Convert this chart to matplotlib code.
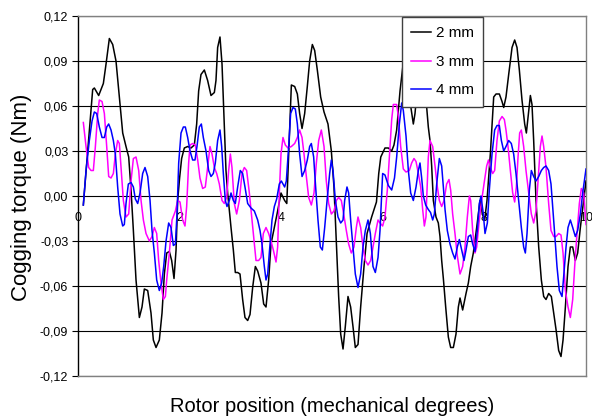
import numpy as np
import matplotlib
matplotlib.use("Agg")
import matplotlib.pyplot as plt

plt.rcParams['font.family'] = ['Liberation Sans', 'DejaVu Sans']

# rotor position (deg) / cogging torque (Nm)
x_2mm = [0.105, 0.289, 0.322, 0.407, 0.499, 0.552, 0.617, 0.683, 0.748, 0.814,
         0.880, 0.945, 0.998, 1.044, 1.090, 1.142, 1.208, 1.260, 1.306, 1.372,
         1.437, 1.483, 1.536, 1.601, 1.654, 1.700, 1.746, 1.798, 1.844, 1.890,
         1.930, 1.962, 2.000, 2.040, 2.093, 2.159, 2.224, 2.290, 2.336, 2.375,
         2.421, 2.487, 2.552, 2.618, 2.684, 2.716, 2.749, 2.795, 2.835, 2.880,
         2.913, 2.946, 3.012, 3.058, 3.097, 3.143, 3.189, 3.241, 3.287, 3.340,
         3.386, 3.438, 3.491, 3.537, 3.602, 3.655, 3.701, 3.753, 3.799, 3.865,
         3.930, 3.996, 4.068, 4.110, 4.150, 4.200, 4.265, 4.318, 4.363, 4.410,
         4.462, 4.514, 4.560, 4.613, 4.659, 4.711, 4.777, 4.843, 4.921, 4.987,
         5.039, 5.085, 5.131, 5.171, 5.217, 5.262, 5.315, 5.367, 5.413, 5.459,
         5.512, 5.564, 5.630, 5.690, 5.780, 5.875, 5.920, 5.960, 6.043, 6.109,
         6.175, 6.220, 6.273, 6.306, 6.339, 6.400, 6.460, 6.549, 6.601, 6.634,
         6.700, 6.760, 6.820, 6.864, 6.896, 6.929, 6.962, 6.995, 7.047, 7.093,
         7.126, 7.159, 7.192, 7.238, 7.290, 7.336, 7.389, 7.441, 7.487, 7.520,
         7.572, 7.638, 7.684, 7.730, 7.782, 7.848, 7.914, 7.960, 8.005, 8.051,
         8.117, 8.183, 8.229, 8.294, 8.347, 8.380, 8.425, 8.478, 8.544, 8.596,
         8.642, 8.688, 8.740, 8.793, 8.826, 8.858, 8.905, 8.937, 8.970, 9.016,
         9.069, 9.121, 9.167, 9.213, 9.265, 9.318, 9.364, 9.410, 9.462, 9.508,
         9.548, 9.594, 9.646, 9.692, 9.738, 9.790, 9.836, 9.889, 9.954, 10.0]
y_2mm = [-0.006, 0.071, 0.072, 0.067, 0.075, 0.088, 0.105, 0.101, 0.090, 0.066,
         0.042, 0.033, 0.026, 0.004, -0.023, -0.056, -0.081, -0.074, -0.062, -0.063,
         -0.078, -0.096, -0.101, -0.096, -0.078, -0.052, -0.038, -0.037, -0.043, -0.055,
         -0.036, -0.003, 0.012, 0.025, 0.032, 0.033, 0.032, 0.034, 0.048, 0.070,
         0.081, 0.084, 0.077, 0.067, 0.069, 0.077, 0.099, 0.106, 0.088, 0.048,
         0.017, 0.002, -0.021, -0.036, -0.051, -0.051, -0.052, -0.069, -0.081, -0.083,
         -0.079, -0.061, -0.047, -0.050, -0.058, -0.072, -0.074, -0.056, -0.032, -0.021,
         -0.010, 0.002, -0.003, -0.005, 0.030, 0.074, 0.073, 0.068, 0.055, 0.045,
         0.055, 0.073, 0.090, 0.101, 0.097, 0.084, 0.066, 0.056, 0.048, 0.030,
         0.006, -0.030, -0.067, -0.092, -0.102, -0.087, -0.067, -0.074, -0.087, -0.101,
         -0.099, -0.074, -0.047, -0.025, -0.014, -0.004, 0.015, 0.026, 0.032, 0.032,
         0.030, 0.034, 0.044, 0.057, 0.070, 0.088, 0.072, 0.060, 0.048, 0.055,
         0.080, 0.098, 0.080, 0.059, 0.046, 0.037, 0.020, -0.003, -0.014, -0.018,
         -0.027, -0.043, -0.055, -0.074, -0.094, -0.101, -0.101, -0.092, -0.074, -0.068,
         -0.076, -0.065, -0.058, -0.047, -0.038, -0.021, -0.003, -0.012, -0.016, -0.003,
         0.028, 0.066, 0.068, 0.068, 0.063, 0.059, 0.066, 0.081, 0.099, 0.104,
         0.099, 0.084, 0.064, 0.048, 0.042, 0.052, 0.067, 0.061, 0.037, -0.003,
         -0.034, -0.056, -0.067, -0.069, -0.065, -0.067, -0.078, -0.089, -0.103, -0.107,
         -0.096, -0.074, -0.047, -0.034, -0.034, -0.043, -0.038, -0.021, -0.003, 0.010]

x_3mm = [0.105, 0.158, 0.210, 0.256, 0.302, 0.342, 0.388, 0.420, 0.473, 0.519,
         0.565, 0.604, 0.650, 0.696, 0.735, 0.781, 0.814, 0.847, 0.893, 0.945,
         0.998, 1.044, 1.090, 1.142, 1.195, 1.241, 1.287, 1.339, 1.405, 1.457,
         1.503, 1.549, 1.588, 1.634, 1.680, 1.720, 1.746, 1.798, 1.851, 1.917,
         1.962, 2.008, 2.060, 2.106, 2.139, 2.178, 2.205, 2.257, 2.310, 2.356,
         2.401, 2.454, 2.506, 2.552, 2.598, 2.638, 2.684, 2.730, 2.782, 2.835,
         2.880, 2.926, 2.966, 2.999, 3.031, 3.077, 3.123, 3.176, 3.228, 3.274,
         3.320, 3.373, 3.425, 3.471, 3.504, 3.556, 3.602, 3.648, 3.701, 3.753,
         3.799, 3.845, 3.898, 3.930, 3.963, 3.996, 4.035, 4.081, 4.134, 4.200,
         4.265, 4.318, 4.363, 4.410, 4.449, 4.495, 4.541, 4.593, 4.646, 4.692,
         4.738, 4.790, 4.843, 4.888, 4.934, 4.987, 5.039, 5.085, 5.131, 5.184,
         5.230, 5.282, 5.328, 5.380, 5.433, 5.479, 5.512, 5.564, 5.610, 5.656,
         5.709, 5.761, 5.807, 5.853, 5.906, 5.945, 5.997, 6.043, 6.089, 6.129,
         6.175, 6.207, 6.273, 6.306, 6.352, 6.404, 6.457, 6.522, 6.568, 6.614,
         6.654, 6.700, 6.746, 6.785, 6.818, 6.850, 6.896, 6.929, 6.982, 7.028,
         7.074, 7.113, 7.159, 7.205, 7.257, 7.303, 7.336, 7.375, 7.421, 7.467,
         7.520, 7.572, 7.618, 7.664, 7.704, 7.730, 7.769, 7.815, 7.848, 7.894,
         7.946, 7.992, 8.045, 8.080, 8.117, 8.163, 8.202, 8.248, 8.294, 8.347,
         8.393, 8.425, 8.465, 8.511, 8.557, 8.596, 8.629, 8.662, 8.694, 8.727,
         8.773, 8.819, 8.872, 8.924, 8.970, 9.016, 9.055, 9.101, 9.134, 9.167,
         9.213, 9.265, 9.311, 9.364, 9.410, 9.462, 9.508, 9.548, 9.594, 9.646,
         9.692, 9.738, 9.777, 9.823, 9.869, 9.908, 9.954, 10.0]
y_3mm = [0.049, 0.033, 0.019, 0.017, 0.017, 0.033, 0.055, 0.064, 0.063, 0.055,
         0.033, 0.013, 0.012, 0.015, 0.028, 0.037, 0.035, 0.019, -0.003, -0.014,
         -0.012, 0.010, 0.025, 0.026, 0.017, -0.003, -0.016, -0.025, -0.030, -0.027,
         -0.021, -0.025, -0.043, -0.058, -0.069, -0.067, -0.056, -0.038, -0.016, -0.010,
         -0.003, -0.004, -0.016, -0.020, -0.007, 0.022, 0.034, 0.035, 0.034, 0.024,
         0.012, 0.005, 0.006, 0.019, 0.033, 0.028, 0.019, 0.015, 0.008, -0.003,
         -0.005, -0.001, 0.017, 0.028, 0.019, -0.005, -0.012, -0.003, 0.015, 0.019,
         0.017, 0.002, -0.016, -0.032, -0.043, -0.043, -0.041, -0.025, -0.021, -0.025,
         -0.030, -0.036, -0.044, -0.034, 0.002, 0.028, 0.039, 0.034, 0.032, 0.033,
         0.035, 0.039, 0.044, 0.039, 0.028, 0.013, -0.001, -0.006, 0.002, 0.022,
         0.037, 0.044, 0.033, 0.010, -0.005, -0.012, -0.010, -0.003, -0.001, -0.003,
         -0.012, -0.023, -0.032, -0.038, -0.034, -0.021, -0.014, -0.021, -0.034, -0.043,
         -0.046, -0.043, -0.034, -0.025, -0.016, -0.018, -0.020, -0.014, 0.004, 0.026,
         0.051, 0.061, 0.061, 0.053, 0.033, 0.018, 0.016, 0.017, 0.022, 0.025,
         0.023, 0.015, 0.006, -0.009, -0.020, -0.014, 0.026, 0.037, 0.033, 0.020,
         0.006, -0.003, -0.007, -0.003, 0.008, 0.011, 0.004, -0.012, -0.025, -0.040,
         -0.052, -0.047, -0.034, -0.014, 0.000, -0.003, -0.023, -0.038, -0.034, -0.018,
         -0.003, 0.008, 0.020, 0.024, 0.019, 0.015, 0.017, 0.037, 0.050, 0.053,
         0.051, 0.044, 0.033, 0.017, 0.002, -0.004, 0.006, 0.026, 0.042, 0.044,
         0.033, 0.017, 0.002, -0.012, -0.018, -0.010, 0.010, 0.033, 0.040, 0.033,
         0.019, -0.005, -0.023, -0.027, -0.027, -0.025, -0.026, -0.038, -0.063, -0.074,
         -0.081, -0.069, -0.047, -0.025, -0.005, 0.005, 0.002, -0.019]

x_4mm = [0.105, 0.158, 0.223, 0.276, 0.322, 0.368, 0.420, 0.473, 0.519, 0.565,
         0.604, 0.650, 0.696, 0.735, 0.781, 0.827, 0.880, 0.912, 0.945, 0.991,
         1.044, 1.090, 1.129, 1.175, 1.221, 1.273, 1.319, 1.372, 1.418, 1.457,
         1.503, 1.549, 1.601, 1.647, 1.687, 1.733, 1.785, 1.831, 1.877, 1.917,
         1.949, 1.982, 2.028, 2.074, 2.113, 2.159, 2.205, 2.257, 2.303, 2.342,
         2.388, 2.428, 2.467, 2.520, 2.572, 2.618, 2.664, 2.703, 2.749, 2.795,
         2.828, 2.861, 2.900, 2.933, 2.979, 3.012, 3.058, 3.097, 3.143, 3.195,
         3.241, 3.287, 3.340, 3.405, 3.471, 3.537, 3.583, 3.622, 3.668, 3.701,
         3.734, 3.766, 3.819, 3.865, 3.911, 3.963, 4.003, 4.035, 4.068, 4.101,
         4.147, 4.186, 4.232, 4.278, 4.318, 4.363, 4.410, 4.462, 4.514, 4.560,
         4.593, 4.639, 4.678, 4.724, 4.770, 4.810, 4.856, 4.908, 4.954, 4.987,
         5.020, 5.066, 5.118, 5.171, 5.217, 5.249, 5.295, 5.328, 5.367, 5.413,
         5.459, 5.512, 5.564, 5.610, 5.656, 5.709, 5.755, 5.807, 5.853, 5.906,
         5.945, 5.997, 6.043, 6.109, 6.175, 6.230, 6.273, 6.326, 6.372, 6.404,
         6.457, 6.503, 6.549, 6.601, 6.654, 6.700, 6.732, 6.765, 6.798, 6.844,
         6.896, 6.940, 6.982, 7.015, 7.061, 7.113, 7.159, 7.192, 7.225, 7.270,
         7.323, 7.375, 7.421, 7.467, 7.507, 7.553, 7.599, 7.638, 7.684, 7.730,
         7.769, 7.815, 7.861, 7.900, 7.933, 7.979, 8.012, 8.058, 8.097, 8.150,
         8.202, 8.248, 8.294, 8.334, 8.380, 8.425, 8.478, 8.530, 8.576, 8.622,
         8.675, 8.727, 8.773, 8.806, 8.839, 8.885, 8.924, 8.970, 9.016, 9.069,
         9.121, 9.167, 9.213, 9.265, 9.311, 9.344, 9.383, 9.429, 9.475, 9.528,
         9.560, 9.607, 9.646, 9.692, 9.738, 9.790, 9.836, 9.889, 9.935, 10.0]
y_4mm = [-0.006, 0.017, 0.037, 0.050, 0.056, 0.055, 0.046, 0.039, 0.039, 0.046,
         0.048, 0.044, 0.037, 0.028, 0.006, -0.012, -0.020, -0.019, -0.005, 0.008,
         0.009, 0.006, -0.002, -0.005, 0.002, 0.015, 0.019, 0.013, -0.003, -0.023,
         -0.038, -0.056, -0.063, -0.058, -0.047, -0.030, -0.018, -0.021, -0.033, -0.032,
         -0.012, 0.022, 0.042, 0.046, 0.046, 0.039, 0.030, 0.024, 0.024, 0.033,
         0.046, 0.048, 0.039, 0.030, 0.017, 0.013, 0.015, 0.022, 0.037, 0.044,
         0.033, 0.015, -0.003, -0.007, -0.003, 0.002, -0.003, -0.005, 0.006, 0.017,
         0.015, 0.006, -0.005, -0.008, -0.010, -0.016, -0.023, -0.032, -0.047, -0.056,
         -0.052, -0.038, -0.016, -0.007, -0.002, 0.008, 0.010, 0.008, 0.006, 0.010,
         0.033, 0.055, 0.059, 0.058, 0.048, 0.028, 0.013, 0.017, 0.024, 0.033,
         0.035, 0.026, 0.006, -0.016, -0.034, -0.036, -0.021, -0.001, 0.015, 0.024,
         0.017, -0.003, -0.014, -0.018, -0.016, -0.003, 0.006, 0.002, -0.016, -0.034,
         -0.052, -0.061, -0.052, -0.034, -0.023, -0.016, -0.025, -0.047, -0.051, -0.041,
         -0.023, 0.015, 0.014, 0.007, 0.004, 0.012, 0.026, 0.048, 0.062, 0.057,
         0.040, 0.017, 0.002, -0.003, 0.006, 0.017, 0.022, 0.012, 0.000, -0.006,
         -0.009, -0.011, -0.016, -0.012, 0.008, 0.025, 0.020, 0.006, -0.009, -0.023,
         -0.032, -0.038, -0.042, -0.034, -0.029, -0.036, -0.043, -0.036, -0.027, -0.026,
         -0.032, -0.037, -0.023, -0.005, 0.000, -0.012, -0.025, -0.018, 0.004, 0.028,
         0.044, 0.047, 0.047, 0.037, 0.030, 0.033, 0.037, 0.035, 0.028, 0.015,
         -0.003, -0.021, -0.034, -0.038, -0.025, 0.004, 0.017, 0.013, 0.010, 0.013,
         0.017, 0.019, 0.020, 0.017, 0.008, -0.007, -0.025, -0.047, -0.063, -0.067,
         -0.054, -0.034, -0.021, -0.016, -0.021, -0.027, -0.023, -0.012, 0.002, 0.018]

series_names = ['2 mm', '3 mm', '4 mm']
series_colors = ['#000000', '#ff00ff', '#0000ff']

x_ticks = [0, 2, 4, 6, 8, 10]
x_ticklabels = ['0', '2', '4', '6', '8', '10']
y_ticks = [-0.12, -0.09, -0.06, -0.03, 0.0, 0.03, 0.06, 0.09, 0.12]
y_ticklabels = ['-0,12', '-0,09', '-0,06', '-0,03', '0,00', '0,03', '0,06', '0,09', '0,12']

fig = plt.figure(figsize=(5.92, 4.18), dpi=100)
ax = fig.add_axes([78 / 592, 42 / 418, 508 / 592, 360 / 418])

data = [(x_2mm, y_2mm), (x_3mm, y_3mm), (x_4mm, y_4mm)]
for (xs, ys), name, col in zip(data, series_names, series_colors):
    ax.plot(xs, ys, color=col, lw=1.1, label=name, solid_joinstyle='round', zorder=3)

ax.set_xlim(0, 10)
ax.set_ylim(-0.12, 0.12)

ax.set_yticks(y_ticks)
ax.set_yticklabels(y_ticklabels)
ax.yaxis.grid(True, color='black', lw=0.8)
ax.set_axisbelow(True)
ax.tick_params(axis='y', direction='out', length=4, width=0.8, pad=3, labelsize=9)

# x axis crosses at zero, labels sit under the zero line
ax.set_xticks(x_ticks)
ax.set_xticklabels(x_ticklabels)
ax.spines['bottom'].set_position(('data', 0))
ax.spines['bottom'].set_visible(False)
ax.tick_params(axis='x', length=0, pad=11.5, labelsize=9)

ax.spines['left'].set_color('black')
ax.spines['left'].set_linewidth(1.0)
for s in ['top', 'right']:
    ax.spines[s].set_color('#808080')
    ax.spines[s].set_linewidth(1.0)
ax.axhline(-0.12, color='#808080', lw=1.0, clip_on=False, zorder=4)

leg = ax.legend(loc='upper left', bbox_to_anchor=(402 / 592, 1 - 17 / 418),
                bbox_transform=fig.transFigure, fontsize=11, frameon=True,
                fancybox=False, edgecolor='#404040', framealpha=1,
                borderpad=0.62, labelspacing=0.95, handlelength=1.3,
                handletextpad=0.3, borderaxespad=0)
leg.get_frame().set_linewidth(1.0)

fig.text(332 / 592, 1 - 406 / 418, 'Rotor position (mechanical degrees)',
         ha='center', va='center', fontsize=14.5)
fig.text(21.5 / 592, 1 - 197 / 418, 'Cogging torque (Nm)', rotation=90,
         ha='center', va='center', fontsize=16)

fig.savefig('out.png', dpi=100)
